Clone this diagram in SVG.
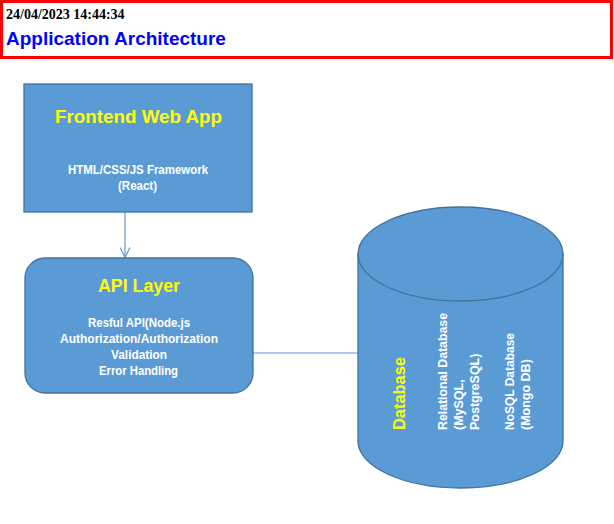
<svg xmlns="http://www.w3.org/2000/svg" width="614" height="524" viewBox="0 0 614 524">
<style>
.shape{fill:#5B9BD5;stroke:#41719C;stroke-width:1.3}
.ttl{font-family:"Liberation Sans",Arial,sans-serif;font-weight:bold;fill:#FFFF00;text-anchor:middle}
.sub{font-family:"Liberation Sans",Arial,sans-serif;font-weight:bold;fill:#FFFFFF;font-size:12px;text-anchor:middle}
.vsub{font-family:"Liberation Sans",Arial,sans-serif;font-weight:bold;fill:#FFFFFF;font-size:12.5px}
.conn{stroke:#5B9BD5;stroke-width:1.2;fill:none}
</style>
<defs>
<marker id="arr" viewBox="0 0 12 12" refX="11" refY="6" markerWidth="12" markerHeight="12" markerUnits="userSpaceOnUse" orient="auto">
<path d="M1,1 L11,6 L1,11" fill="none" stroke="#5B9BD5" stroke-width="1.2"/>
</marker>
</defs>
<rect width="614" height="524" fill="#FFFFFF"/>
<g id="header">
<rect x="1.5" y="1.5" width="610" height="56" fill="#FFFFFF" stroke="#FF0000" stroke-width="3"/>
<text x="6" y="19" font-family="'Liberation Serif','Times New Roman',serif" font-weight="bold" font-size="14" fill="#000000">24/04/2023 14:44:34</text>
<text x="6" y="45" font-family="'Liberation Sans',Arial,sans-serif" font-weight="bold" font-size="19" fill="#0000FF">Application Architecture</text>
</g>
<g id="connectors">
<line class="conn" x1="125" y1="212" x2="125" y2="257.5" marker-end="url(#arr)"/>
<line class="conn" x1="253" y1="353" x2="358" y2="353"/>
</g>
<g id="frontend">
<rect class="shape" x="24" y="84" width="228" height="128"/>
<text class="ttl" x="138.5" y="123" font-size="18" textLength="167" lengthAdjust="spacingAndGlyphs">Frontend Web App</text>
<text class="sub" x="138" y="174" textLength="140" lengthAdjust="spacingAndGlyphs">HTML/CSS/JS Framework</text>
<text class="sub" x="137.5" y="190" textLength="39" lengthAdjust="spacingAndGlyphs">(React)</text>
</g>
<g id="api">
<rect class="shape" x="25" y="258" width="228" height="135" rx="20" ry="20"/>
<text class="ttl" x="139" y="292" font-size="18" textLength="82" lengthAdjust="spacingAndGlyphs">API Layer</text>
<text class="sub" x="139" y="327" textLength="102" lengthAdjust="spacingAndGlyphs">Resful API(Node.js</text>
<text class="sub" x="139" y="343" textLength="158" lengthAdjust="spacingAndGlyphs">Authorization/Authorization</text>
<text class="sub" x="139" y="359" textLength="56" lengthAdjust="spacingAndGlyphs">Validation</text>
<text class="sub" x="138.5" y="375" textLength="79" lengthAdjust="spacingAndGlyphs">Error Handling</text>
</g>
<g id="database">
<path class="shape" d="M358,254 L358,441 A102.5,47 0 0 0 563,441 L563,254 Z"/>
<ellipse class="shape" cx="460.5" cy="254" rx="102.5" ry="47"/>
<text transform="translate(405,430) rotate(-90)" font-family="'Liberation Sans',Arial,sans-serif" font-weight="bold" font-size="17" fill="#FFFF00" textLength="73" lengthAdjust="spacingAndGlyphs">Database</text>
<text class="vsub" transform="translate(447,430) rotate(-90)" textLength="117" lengthAdjust="spacingAndGlyphs">Relational Database</text>
<text class="vsub" transform="translate(463,430) rotate(-90)">(MySQL,</text>
<text class="vsub" transform="translate(479,430) rotate(-90)">PostgreSQL)</text>
<text class="vsub" transform="translate(514,430) rotate(-90)" textLength="97" lengthAdjust="spacingAndGlyphs">NoSQL Database</text>
<text class="vsub" transform="translate(530,430) rotate(-90)">(Mongo DB)</text>
</g>
</svg>
